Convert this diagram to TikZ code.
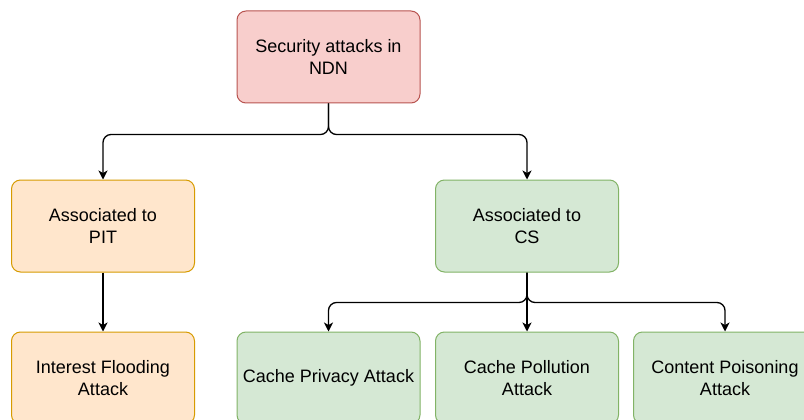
\documentclass[tikz,border=0pt]{standalone}
\usepackage{fontspec}
\setmainfont{Liberation Sans}
\usepackage{xcolor}
\usetikzlibrary{positioning,calc,arrows.meta}
\definecolor{redfill}{HTML}{F8CECC}
\definecolor{redline}{HTML}{B85450}
\definecolor{orangefill}{HTML}{FFE6CC}
\definecolor{orangeline}{HTML}{D79B00}
\definecolor{greenfill}{HTML}{D5E8D4}
\definecolor{greenline}{HTML}{82B366}

\begin{document}
\begin{tikzpicture}[x=1pt,y=-1pt,
  box/.style={draw,rounded corners=9pt,line width=1pt,minimum width=183pt,minimum height=92pt,
    align=center,font=\fontsize{18}{22}\selectfont,inner sep=0pt},
  redbox/.style={box,fill=redfill,draw=redline},
  orangebox/.style={box,fill=orangefill,draw=orangeline},
  greenbox/.style={box,fill=greenfill,draw=greenline},
  link/.style={line width=1.3pt,rounded corners=8pt,-{Stealth[length=9pt,width=9pt,inset=2.5pt]}}]
\useasboundingbox[fill=white] (0,0) rectangle (804,420);
\node[redbox] (sec) at (328.5,57) {Security attacks in\\NDN};
\node[orangebox] (pit) at (103,226) {Associated to\\PIT};
\node[greenbox] (cs) at (527,226) {Associated to\\CS};
\node[orangebox] (flood) at (103,378) {Interest Flooding\\Attack};
\node[greenbox] (priv) at (328.5,378) {Cache Privacy Attack};
\node[greenbox] (poll) at (527,378) {Cache Pollution\\Attack};
\node[greenbox] (poison) at (725,378) {Content Poisoning\\Attack};
\draw[link] (sec.south) -- ++(0,31) -| (pit.north);
\draw[link] (sec.south) -- ++(0,31) -| (cs.north);
\draw[link] (pit.south) -- (flood.north);
\draw[link] (cs.south) -- ++(0,30) -| (priv.north);
\draw[link] (cs.south) -- (poll.north);
\draw[link] (cs.south) -- ++(0,30) -| (poison.north);
\end{tikzpicture}
\end{document}
